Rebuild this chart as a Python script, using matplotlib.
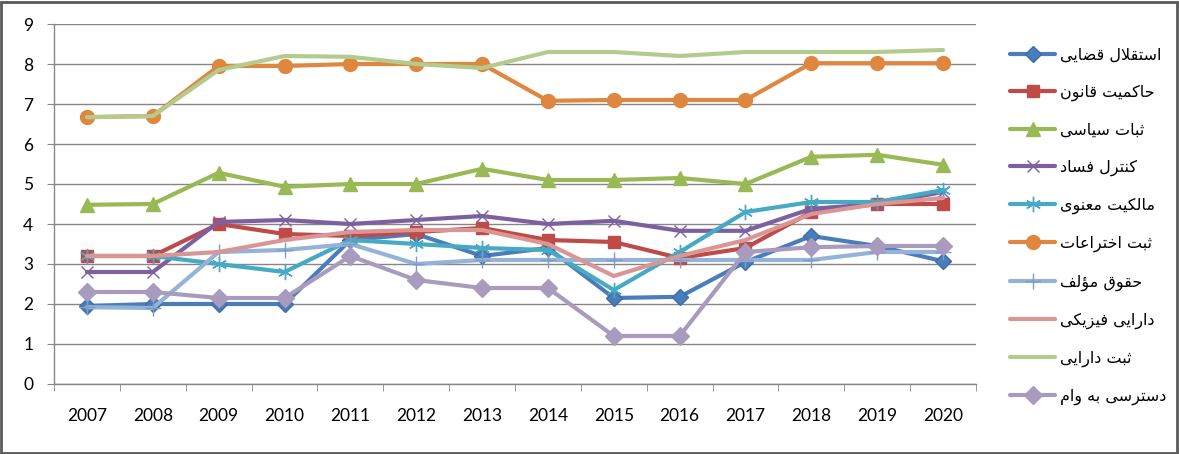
import matplotlib
matplotlib.use("Agg")
import matplotlib.pyplot as plt
from matplotlib.patches import Rectangle

years = ["2007", "2008", "2009", "2010", "2011", "2012", "2013",
         "2014", "2015", "2016", "2017", "2018", "2019", "2020"]

judicial_independence = [1.95, 2.0, 2.0, 2.0, 3.6, 3.75, 3.2, 3.4, 2.15, 2.18, 3.05, 3.7, 3.45, 3.07]
rule_of_law = [3.2, 3.2, 4.0, 3.75, 3.7, 3.8, 3.9, 3.6, 3.55, 3.15, 3.4, 4.3, 4.5, 4.5]
political_stability = [4.48, 4.5, 5.28, 4.93, 5.0, 5.0, 5.38, 5.1, 5.1, 5.15, 5.0, 5.68, 5.73, 5.48]
corruption_control = [2.8, 2.8, 4.05, 4.1, 4.0, 4.1, 4.2, 4.0, 4.08, 3.83, 3.83, 4.38, 4.5, 4.8]
intellectual_property = [3.2, 3.2, 3.0, 2.8, 3.6, 3.5, 3.4, 3.35, 2.35, 3.3, 4.3, 4.55, 4.55, 4.85]
patent_registration = [6.67, 6.7, 7.95, 7.95, 8.0, 8.0, 8.0, 7.08, 7.1, 7.1, 7.1, 8.02, 8.02, 8.02]
copyright_ = [1.92, 1.9, 3.3, 3.35, 3.5, 3.0, 3.1, 3.1, 3.1, 3.1, 3.1, 3.1, 3.3, 3.3]
physical_property = [3.2, 3.2, 3.3, 3.6, 3.8, 3.85, 3.85, 3.5, 2.7, 3.2, 3.6, 4.25, 4.5, 4.65]
property_registration = [6.67, 6.7, 7.85, 8.2, 8.18, 8.0, 7.9, 8.3, 8.3, 8.2, 8.3, 8.3, 8.3, 8.35]
access_to_loans = [2.3, 2.3, 2.15, 2.15, 3.2, 2.6, 2.4, 2.4, 1.2, 1.2, 3.3, 3.42, 3.45, 3.45]

labels = ["استقلال قضایی", "حاکمیت قانون", "ثبات سیاسی", "کنترل فساد", "مالکیت معنوی",
          "ثبت اختراعات", "حقوق مؤلف", "دارایی فیزیکی", "ثبت دارایی", "دسترسی به وام"]

# ---- minimal Arabic/Persian shaping (matplotlib has no complex text layout) ----
FORMS = {
    '\u0627': ('\uFE8D', '\uFE8E', None, None),
    '\u0628': ('\uFE8F', '\uFE90', '\uFE91', '\uFE92'),
    '\u062A': ('\uFE95', '\uFE96', '\uFE97', '\uFE98'),
    '\u062B': ('\uFE99', '\uFE9A', '\uFE9B', '\uFE9C'),
    '\u062D': ('\uFEA1', '\uFEA2', '\uFEA3', '\uFEA4'),
    '\u062E': ('\uFEA5', '\uFEA6', '\uFEA7', '\uFEA8'),
    '\u062F': ('\uFEA9', '\uFEAA', None, None),
    '\u0631': ('\uFEAD', '\uFEAE', None, None),
    '\u0632': ('\uFEAF', '\uFEB0', None, None),
    '\u0633': ('\uFEB1', '\uFEB2', '\uFEB3', '\uFEB4'),
    '\u0636': ('\uFEBD', '\uFEBE', '\uFEBF', '\uFEC0'),
    '\u0639': ('\uFEC9', '\uFECA', '\uFECB', '\uFECC'),
    '\u0641': ('\uFED1', '\uFED2', '\uFED3', '\uFED4'),
    '\u0642': ('\uFED5', '\uFED6', '\uFED7', '\uFED8'),
    '\u0644': ('\uFEDD', '\uFEDE', '\uFEDF', '\uFEE0'),
    '\u0645': ('\uFEE1', '\uFEE2', '\uFEE3', '\uFEE4'),
    '\u0646': ('\uFEE5', '\uFEE6', '\uFEE7', '\uFEE8'),
    '\u0647': ('\uFEE9', '\uFEEA', '\uFEEB', '\uFEEC'),
    '\u0648': ('\uFEED', '\uFEEE', None, None),
    '\u0624': ('\uFE85', '\uFE86', None, None),
    '\u06A9': ('\uFB8E', '\uFB8F', '\uFB90', '\uFB91'),
    '\u06CC': ('\uFBFC', '\uFBFD', '\uFBFE', '\uFBFF'),
}


def shape(text):
    out = []
    n = len(text)
    i = 0
    prev_connect = False
    while i < n:
        c = text[i]
        if c not in FORMS:
            out.append(c)
            prev_connect = False
            i += 1
            continue
        if c == '\u0644' and i + 1 < n and text[i + 1] == '\u0627':
            out.append('\uFEFC' if prev_connect else '\uFEFB')
            prev_connect = False
            i += 2
            continue
        iso, fin, ini, med = FORMS[c]
        dual = ini is not None
        next_joins = dual and i + 1 < n and text[i + 1] in FORMS
        if prev_connect and next_joins:
            out.append(med)
        elif prev_connect:
            out.append(fin)
        elif next_joins:
            out.append(ini)
        else:
            out.append(iso)
        prev_connect = next_joins
        i += 1
    return ''.join(reversed(out))


series = [judicial_independence, rule_of_law, political_stability, corruption_control,
          intellectual_property, patent_registration, copyright_, physical_property,
          property_registration, access_to_loans]

styles = [
    dict(color='#4A7EBB', marker='D', ms=8, mfc='#4A7EBB', mec='#3D6CA8'),
    dict(color='#BE4B48', marker='s', ms=9, mfc='#BE4B48', mec='#BE4B48'),
    dict(color='#98B954', marker='^', ms=10, mfc='#98B954', mec='#98B954'),
    dict(color='#7D60A0', marker='x', ms=9, mew=1.0, mec='#7D60A0'),
    dict(color='#46AAC5', marker=(6, 2, 0), ms=11, mew=1.0, mec='#46AAC5'),
    dict(color='#E0873F', marker='o', ms=10, mfc='#E0873F', mec='#E0873F'),
    dict(color='#95B3D7', marker='+', ms=11, mew=1.0, mec='#7F9CC5'),
    dict(color='#D99694', marker=None),
    dict(color='#B3CC8E', marker=None),
    dict(color='#A99BBD', marker='D', ms=9, mfc='#A99BBD', mec='#A99BBD'),
]

W, H = 1179, 454
fig = plt.figure(figsize=(W / 100, H / 100), dpi=100)
fig.patch.set_facecolor('white')
ax = fig.add_axes([54 / W, 70 / H, 922 / W, 360 / H])

x = list(range(len(years)))
handles = []
for vals, lab, st in zip(series, labels, styles):
    h, = ax.plot(x, vals, lw=3.0, label=shape(lab), solid_joinstyle='round',
                 solid_capstyle='round', **st)
    handles.append(h)

ax.set_ylim(0, 9)
ax.set_yticks(range(0, 10))
ax.set_xlim(-0.5, len(years) - 0.5)
ax.set_xticks(x)
ax.set_xticklabels(years)
ax.set_xticks([i - 0.5 for i in range(len(years) + 1)], minor=True)

gridc = '#868686'
ax.yaxis.grid(True, color=gridc, lw=1.0)
ax.set_axisbelow(True)
for s in ['top', 'right']:
    ax.spines[s].set_visible(False)
for s in ['left', 'bottom']:
    ax.spines[s].set_color(gridc)
    ax.spines[s].set_linewidth(1.0)

ax.tick_params(axis='x', which='major', length=0, pad=17, labelsize=12.5, labelcolor='black')
ax.tick_params(axis='x', which='minor', length=5, direction='out', color=gridc)
ax.tick_params(axis='y', which='major', length=5, direction='out', color=gridc, pad=10,
               labelsize=12.5, labelcolor='black')
for lbl in ax.get_xticklabels() + ax.get_yticklabels():
    lbl.set_fontfamily('Lato')

leg = fig.legend(handles=handles, loc='upper left', bbox_to_anchor=(1004 / W, 1 - 41 / H),
                 frameon=False, fontsize=11.5, handlelength=2.8, handletextpad=0.3,
                 labelspacing=1.37, numpoints=1, borderaxespad=0)
for t in leg.get_texts():
    t.set_fontfamily(['DejaVu Sans'])

fig.patches.append(Rectangle((1 / W, 1 / H), 1 - 3 / W, 1 - 3 / H, transform=fig.transFigure,
                             fill=False, edgecolor='#5A5A5A', lw=2.0))

fig.savefig('out.png', dpi=100, facecolor='white')
